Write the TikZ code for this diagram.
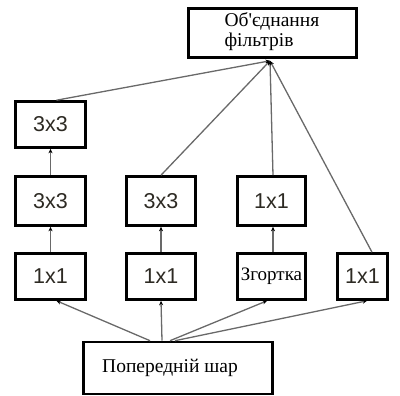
\documentclass[tikz,border=0pt]{standalone}
\usepackage{fontspec}
\setmainfont{Liberation Serif}
\newfontfamily\arialf{Liberation Sans}
\usetikzlibrary{arrows.meta,calc}
\definecolor{linegray}{RGB}{105,105,105}
\definecolor{labelc}{RGB}{45,42,35}
\begin{document}
\begin{tikzpicture}[x=1pt,y=-1pt,
  box/.style={draw=black,line width=2.6pt,fill=white,inner sep=0pt,anchor=center},
  sanslbl/.style={font=\arialf\fontsize{21.5}{24}\selectfont,text=labelc},
  seriflbl/.style={font=\fontsize{19.5}{21}\selectfont,text=black},
  conn/.style={draw=linegray,line width=1.3pt,-{Stealth[length=4.5pt,width=4pt,black]}}
]
\useasboundingbox (0,0) rectangle (400,396);
% boxes
\node[box,minimum width=168pt,minimum height=49pt] (top) at (272.5,33) {};
\node[seriflbl,anchor=west,align=left,font=\fontsize{19.5}{20}\selectfont] (toptxt) at (221,32) {Об\textquotesingle єднання\\фільтрів};
\node[box,sanslbl,minimum width=70pt,minimum height=46pt] (a3) at (50.5,124.5) {3x3};
\node[box,sanslbl,minimum width=70pt,minimum height=49pt] (a2) at (50.5,201) {3x3};
\node[box,sanslbl,minimum width=70pt,minimum height=46pt] (a1) at (50.5,276.5) {1x1};
\node[box,sanslbl,minimum width=69pt,minimum height=49pt] (b2) at (161,201) {3x3};
\node[box,sanslbl,minimum width=69pt,minimum height=46pt] (b1) at (161,276.5) {1x1};
\node[box,sanslbl,minimum width=68pt,minimum height=49pt] (c2) at (271.5,201) {1x1};
\node[box,seriflbl,font=\fontsize{19}{21}\selectfont,minimum width=68pt,minimum height=46pt] (c1) at (271.5,276.5) {Згортка};
\node[box,sanslbl,minimum width=50pt,minimum height=46pt] (d1) at (362.5,276.5) {1x1};
\node[box,minimum width=189pt,minimum height=52pt] (prev) at (178,368) {};
\node[seriflbl,anchor=center] (prevtxt) at (170,368) {Попередній шар};
% join point under top box
\coordinate (P) at ($(top.south)+(-2.5,2)$);
% connectors into top box
\draw[conn] ($(a3.north)+(6,0)$) -- (P);
\draw[conn] (b2.north) -- (P);
\draw[conn] ($(c2.north)+(1.5,0)$) -- (P);
\draw[conn] ($(d1.north)+(9.5,0)$) -- (P);
% vertical connectors
\draw[conn] (a1.north) -- (a2.south);
\draw[conn] (a2.north) -- (a3.south);
\draw[conn] (b1.north) -- (b2.south);
\draw[conn] ($(c1.north)+(1.5,0)$) -- ($(c2.south)+(1.5,0)$);
% from previous layer
\draw[conn] ($(prev.north)+(-28,0)$) -- ($(a1.south)+(6,0)$);
\draw[conn] ($(prev.north)+(-16,0)$) -- (b1.south);
\draw[conn] ($(prev.north)+(-8,0)$) -- ($(c1.south)+(-4.5,0)$);
\draw[conn] ($(prev.north)+(-3,0)$) -- ($(d1.south)+(4.5,0)$);
\end{tikzpicture}
\end{document}
